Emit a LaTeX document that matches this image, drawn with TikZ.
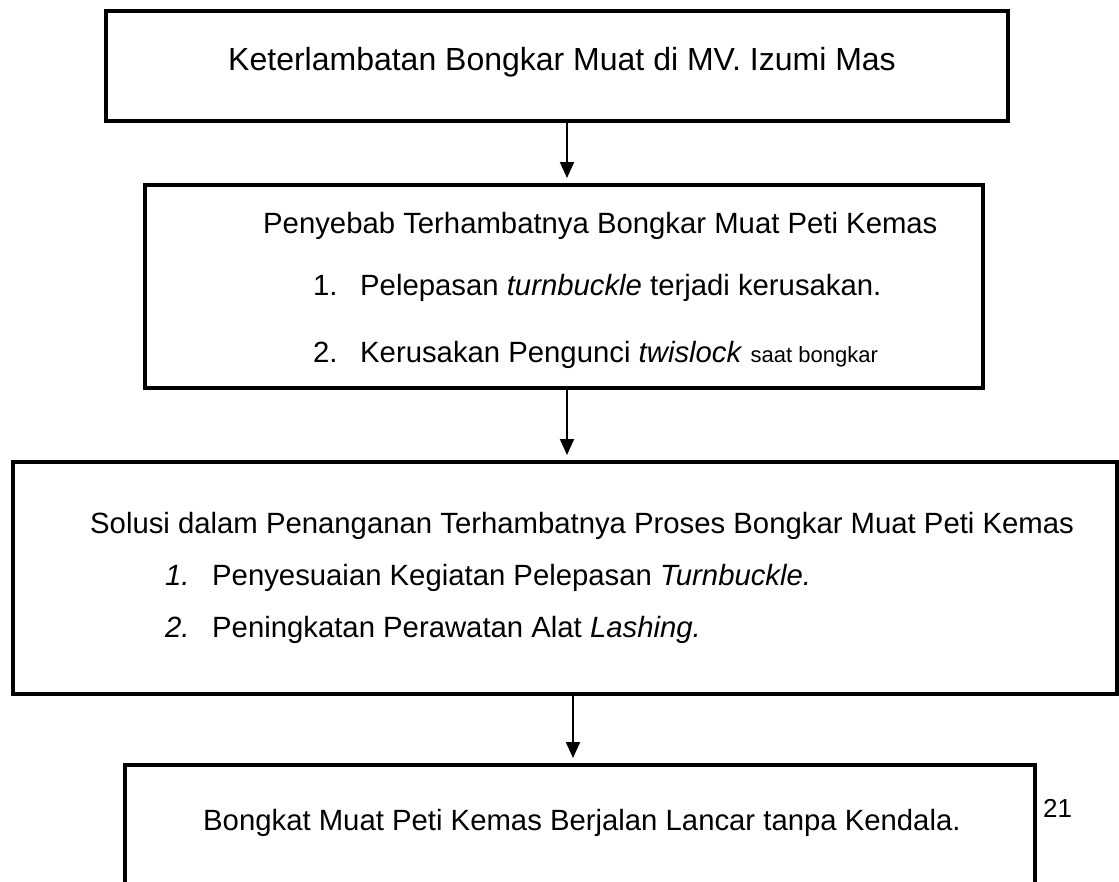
\documentclass[tikz,border=0pt]{standalone}
\usepackage{fontspec}
\setmainfont{Liberation Sans}
\usetikzlibrary{arrows.meta}
\begin{document}
\begin{tikzpicture}[x=1pt,y=-1pt,
  frame/.style={draw, line width=4.5pt, inner sep=0pt, outer sep=0pt, anchor=north west},
  txt/.style={font=\fontsize{29.3}{35}\selectfont, inner sep=0pt, anchor=base west},
  arr/.style={line width=2pt, -{Triangle[width=14pt,length=16pt]}, shorten >=7pt}]
\useasboundingbox (0,0) rectangle (1119,881);
\clip (0,0) rectangle (1119,881);
\fill[white] (0,0) rectangle (1119,881);
% boxes
\node[frame, minimum width=902pt, minimum height=110pt] (b1) at (106,11) {};
\node[frame, minimum width=838pt, minimum height=203pt] (b2) at (145,185) {};
\node[frame, minimum width=1104pt, minimum height=232pt] (b3) at (13,462) {};
\node[frame, minimum width=910pt, minimum height=160pt] (b4) at (125,765) {};
% texts
\node[txt, anchor=base, font=\fontsize{32}{38}\selectfont] (t1) at (562,70) {Keterlambatan Bongkar Muat di MV. Izumi Mas};
\node[txt] (t2) at (263,233) {Penyebab Terhambatnya Bongkar Muat Peti Kemas};
\node[txt] (t2a) at (313,295) {\makebox[47pt][l]{1.}Pelepasan \textit{turnbuckle} terjadi kerusakan.};
\node[txt] (t2b) at (313,362) {\makebox[47pt][l]{2.}Kerusakan Pengunci \textit{twislock} {\fontsize{22}{26}\selectfont saat bongkar}};
\node[txt] (t3) at (90,533) {Solusi dalam Penanganan Terhambatnya Proses Bongkar Muat Peti Kemas};
\node[txt] (t3a) at (165,585) {\makebox[47pt][l]{\textit{1.}}Penyesuaian Kegiatan Pelepasan \textit{Turnbuckle.}};
\node[txt] (t3b) at (165,637) {\makebox[47pt][l]{\textit{2.}}Peningkatan Perawatan Alat \textit{Lashing.}};
\node[txt] (t4) at (203,830) {Bongkat Muat Peti Kemas Berjalan Lancar tanpa Kendala.};
\node[txt, font=\fontsize{26}{30}\selectfont] (pg) at (1043,817) {21};
% connectors
\coordinate (c1) at (567,0);
\coordinate (c3) at (573,0);
\draw[arr] (c1 |- b1.south) -- (c1 |- b2.north);
\draw[arr] (c1 |- b2.south) -- (c1 |- b3.north);
\draw[arr] (c3 |- b3.south) -- (c3 |- b4.north);
\end{tikzpicture}
\end{document}
